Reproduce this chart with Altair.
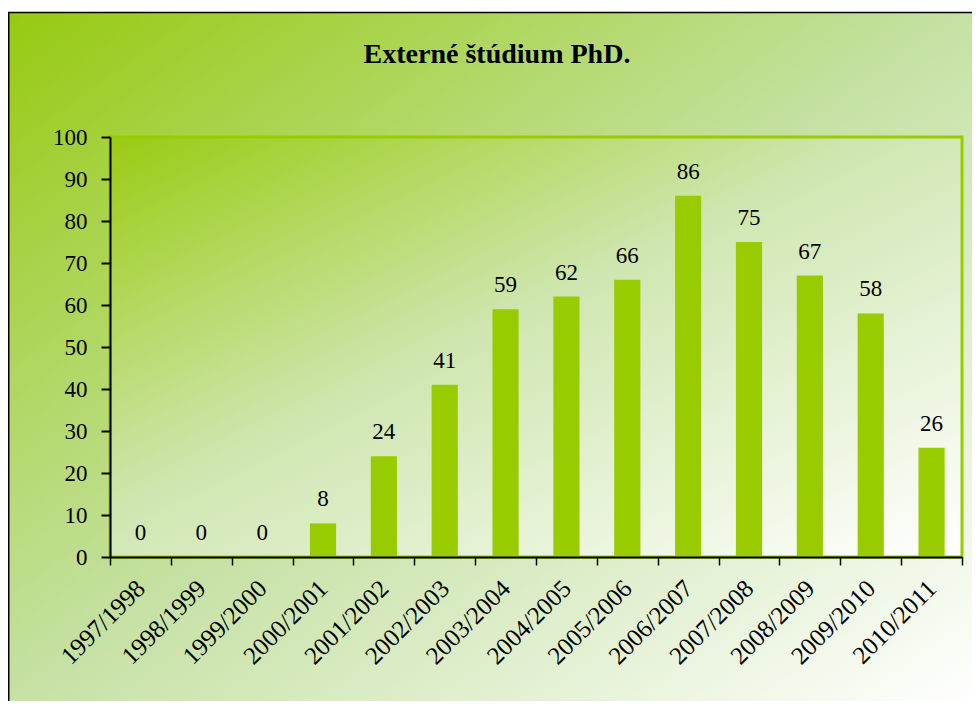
import altair as alt
import pandas as pd

years = ["1997/1998", "1998/1999", "1999/2000", "2000/2001", "2001/2002",
         "2002/2003", "2003/2004", "2004/2005", "2005/2006", "2006/2007",
         "2007/2008", "2008/2009", "2009/2010", "2010/2011"]
values = [0, 0, 0, 8, 24, 41, 59, 62, 66, 86, 75, 67, 58, 26]
y_ticks = [0, 10, 20, 30, 40, 50, 60, 70, 80, 90, 100]
chart_title = "Externé štúdium PhD."

df = pd.DataFrame({"rok": years, "pocet": values})

W, H = 852, 420
FONT = "Liberation Serif"

outer_grad = alt.Gradient(
    gradient="linear",
    stops=[alt.GradientStop(color="#96ca10", offset=0),
           alt.GradientStop(color="#c6e1a4", offset=0.5),
           alt.GradientStop(color="#ffffff", offset=1)],
    x1=0, y1=0, x2=1, y2=1)

inner_grad = alt.Gradient(
    gradient="linear",
    stops=[alt.GradientStop(color="#9acb12", offset=0),
           alt.GradientStop(color="#cfe6b0", offset=0.45),
           alt.GradientStop(color="#ffffff", offset=1)],
    x1=0, y1=0, x2=1, y2=1)

one = alt.Data(values=[{"k": 1}])

bg = alt.Chart(one).mark_rect(fill=outer_grad, stroke="black", strokeWidth=1.5).encode(
    x=alt.value(-101.25), x2=alt.value(866), y=alt.value(-124.5), y2=alt.value(568))

plot_bg = alt.Chart(one).mark_rect(fill=inner_grad, stroke="#99cc00", strokeWidth=3).encode(
    x=alt.value(0), x2=alt.value(W), y=alt.value(0), y2=alt.value(H))

x_enc = alt.X("rok:N", sort=years, scale=alt.Scale(paddingInner=0, paddingOuter=0),
              axis=alt.Axis(title=None, labelAngle=315, labelAlign="right",
                            labelBaseline="middle", labelFontSize=25, labelFont=FONT,
                            labelColor="black", tickColor="black", tickSize=8,
                            tickWidth=1.5, domainColor="black", domainWidth=2,
                            tickBand="extent", labelPadding=19, zindex=1))
y_enc = alt.Y("pocet:Q", scale=alt.Scale(domain=[0, 100], nice=False),
              axis=alt.Axis(title=None, values=y_ticks, grid=False, tickSize=9,
                            tickWidth=2, tickColor="black", labelPadding=14,
                            labelFontSize=23, labelFont=FONT, labelColor="black",
                            domainColor="black", domainWidth=2, zindex=1))

bars = alt.Chart(df).mark_bar(color="#99cc00", width=alt.RelativeBandSize(0.43)).encode(
    x=x_enc, y=y_enc)

labels = alt.Chart(df).mark_text(font=FONT, fontSize=23, color="black",
                                 baseline="alphabetic", dy=-17).encode(
    x=alt.X("rok:N", sort=years), y=alt.Y("pocet:Q"), text="pocet:Q")

title = alt.Chart(alt.Data(values=[{"t": chart_title}])).mark_text(
    font=FONT, fontSize=28, fontWeight="bold", color="black",
    baseline="alphabetic", align="center").encode(
    x=alt.value(387), y=alt.value(-74), text="t:N")

chart = alt.layer(bg, plot_bg, bars, labels, title).properties(
    width=W, height=H,
    padding={"left": 102, "top": 129, "right": 10, "bottom": 144},
    autosize=alt.AutoSizeParams(type="none"),
    background="white",
).configure_view(stroke=None)

chart.save("out.html", embed_options={"renderer": "svg", "actions": False})
